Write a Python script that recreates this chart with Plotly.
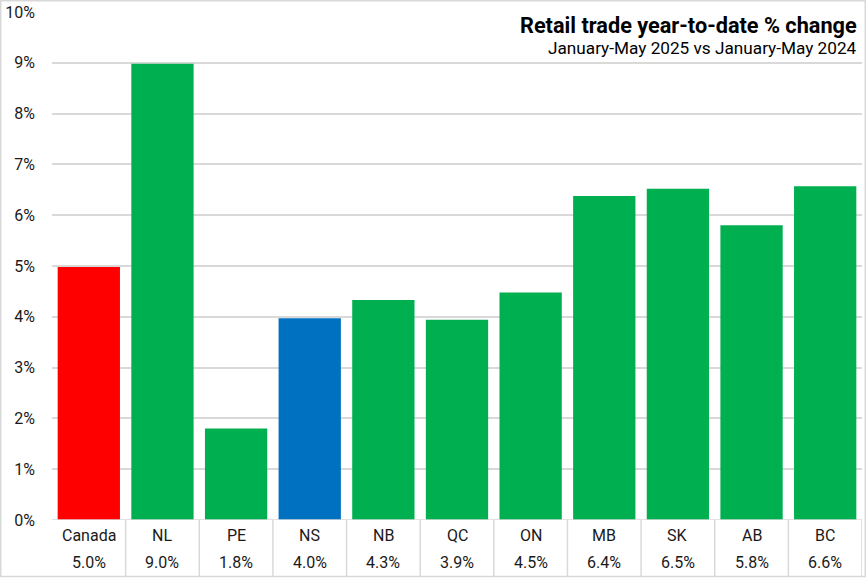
import plotly.graph_objects as go

categories = ["Canada", "NL", "PE", "NS", "NB", "QC", "ON", "MB", "SK", "AB", "BC"]
values = [4.98, 8.98, 1.80, 3.97, 4.33, 3.94, 4.48, 6.38, 6.52, 5.80, 6.57]
value_labels = ["5.0%", "9.0%", "1.8%", "4.0%", "4.3%", "3.9%", "4.5%", "6.4%", "6.5%", "5.8%", "6.6%"]
tick_vals = [0, 1, 2, 3, 4, 5, 6, 7, 8, 9, 10]
tick_text = ["0%", "1%", "2%", "3%", "4%", "5%", "6%", "7%", "8%", "9%", "10%"]
colors = ["#FF0000", "#00B050", "#00B050", "#0070C0", "#00B050", "#00B050",
          "#00B050", "#00B050", "#00B050", "#00B050", "#00B050"]

FONT = "Liberation Sans Narrow, Arial Narrow, Roboto, sans-serif"
W, H = 866, 578
L, R, T, B = 52, 862, 12, 520
PW, PH = R - L, B - T


def px(x):
    return (x - L) / PW


def py(y):
    return (B - y) / PH


fig = go.Figure()
fig.add_trace(go.Bar(
    x=list(range(len(categories))), y=values,
    marker=dict(color=colors, line=dict(width=0)),
    hoverinfo="skip",
))

shapes = []
annotations = []
GRID = "#D9D9D9"
TXT = "#1a1a1a"
# table dividers
for i in range(len(categories)):
    xr = i + 0.5
    shapes.append(dict(type="line", xref="x", yref="paper", x0=xr, x1=xr,
                       y0=py(520), y1=py(576), line=dict(color=GRID, width=1.5)))
    annotations.append(dict(x=i, y=py(535), xref="x", yref="paper", text=categories[i],
                            xanchor="center", yanchor="middle",
                            showarrow=False, font=dict(size=16, color=TXT, family=FONT)))
    annotations.append(dict(x=i, y=py(562), xref="x", yref="paper", text=value_labels[i],
                            xanchor="center", yanchor="middle",
                            showarrow=False, font=dict(size=16, color=TXT, family=FONT)))
# axis line at 0
shapes.append(dict(type="line", xref="paper", yref="y", x0=0, x1=1, y0=0, y1=0,
                   line=dict(color=GRID, width=1.5)))
# outer border
shapes.append(dict(type="rect", xref="paper", yref="paper", x0=px(0.75), x1=px(865.25),
                   y0=py(576.5), y1=py(0.75), line=dict(color=GRID, width=1.5)))

annotations.append(dict(x=px(859), y=py(26), xref="paper", yref="paper", xanchor="right",
                        yanchor="middle", text="<b>Retail trade year-to-date % change</b>",
                        showarrow=False, font=dict(size=21.7, color="#000000", family=FONT)))
annotations.append(dict(x=px(859), y=py(48), xref="paper", yref="paper", xanchor="right",
                        yanchor="middle", text="January-May 2025 vs January-May 2024",
                        showarrow=False, font=dict(size=17.2, color="#000000", family=FONT)))

fig.update_layout(
    width=W, height=H,
    margin=dict(l=L, r=W - R, t=T, b=H - B, pad=0),
    plot_bgcolor="white", paper_bgcolor="white",
    bargap=0.154, showlegend=False,
    shapes=shapes, annotations=annotations,
    xaxis=dict(range=[-0.5, len(categories) - 0.5], showticklabels=False, showgrid=False,
               zeroline=False, showline=False, ticks=""),
    yaxis=dict(range=[0, 10], tickvals=tick_vals, ticktext=tick_text, showgrid=True,
               gridcolor=GRID, gridwidth=1.5, zeroline=False, showline=False, ticks="",
               ticklabelstandoff=16,
               tickfont=dict(size=16, color=TXT, family=FONT)),
)

fig.write_html("out.html", config={"displayModeBar": False},
               post_script="document.body.style.margin='0';document.body.style.overflow='hidden';")
